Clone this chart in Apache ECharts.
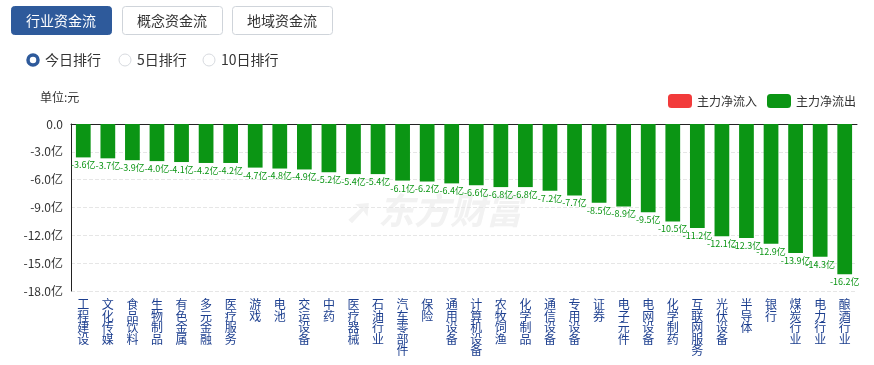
<!DOCTYPE html>
<html><head><meta charset="utf-8">
<script src="https://cdn.jsdelivr.net/npm/echarts@6/dist/echarts.min.js"></script>
<style>html,body{margin:0;padding:0;background:#fff}#c{width:874px;height:365px}</style>
</head><body><div id="c"></div>
<script>
const categories = ['工程建设','文化传媒','食品饮料','生物制品','有色金属','多元金融','医疗服务','游戏','电池','交运设备','中药','医疗器械','石油行业','汽车零部件','保险','通用设备','计算机设备','农牧饲渔','化学制品','通信设备','专用设备','证券','电子元件','电网设备','化学制药','互联网服务','光伏设备','半导体','银行','煤炭行业','电力行业','酿酒行业'];
const outflow = [-3.6,-3.7,-3.9,-4.0,-4.1,-4.2,-4.2,-4.7,-4.8,-4.9,-5.2,-5.4,-5.4,-6.1,-6.2,-6.4,-6.6,-6.8,-6.8,-7.2,-7.7,-8.5,-8.9,-9.5,-10.5,-11.2,-12.1,-12.3,-12.9,-13.9,-14.3,-16.2];
const inflow = categories.map(() => '-');
const tabs = ['行业资金流','概念资金流','地域资金流'];
const radios = ['今日排行','5日排行','10日排行'];

const FONT = '"Noto Sans CJK SC", "Microsoft YaHei", sans-serif';
const GREEN = '#0b9514';
const RED = '#f23b3b';
const chart = echarts.init(document.getElementById('c'), null, {renderer:'canvas'});

const tabX = [11, 122, 232];
const graphics = [];
tabs.forEach((t, i) => {
  const sel = i === 0;
  graphics.push({type:'rect', shape:{x: tabX[i] + 0.5, y: 6.5, width:100, height:28, r:3},
    style:{fill: sel ? '#2e5a9b' : '#fff', stroke: sel ? '#2e5a9b' : '#cfd4da', lineWidth:1}});
  graphics.push({type:'text', style:{x: tabX[i] + 50, y: 20.5, text:t, fill: sel ? '#fff' : '#333',
    font: '14px ' + FONT, align:'center', verticalAlign:'middle'}});
});
const radioX = [33, 125, 209];
radios.forEach((t, i) => {
  const sel = i === 0;
  graphics.push({type:'circle', shape:{cx: radioX[i], cy: 60, r: sel ? 5 : 6},
    style:{fill:'#fff', stroke: sel ? '#2e5a9b' : '#d6d9de', lineWidth: sel ? 3.5 : 1}});
  graphics.push({type:'text', style:{x: radioX[i] + 12, y: 60, text:t, fill:'#333',
    font: '14px ' + FONT, align:'left', verticalAlign:'middle'}});
});
graphics.push({type:'text', style:{x: 40, y: 97, text:'单位:元', fill:'#333', font:'12px ' + FONT, verticalAlign:'middle'}});
graphics.push({type:'text', z: -1, style:{x: 378, y: 210, text:'东方财富', fill:'#f2f2f2', font:'bold italic 36px ' + FONT, verticalAlign:'middle'}});
graphics.push({type:'text', z: -1, style:{x: 345, y: 210, text:'➚', fill:'#f2f2f2', font:'bold 34px ' + FONT, verticalAlign:'middle'}});

chart.setOption({
  animation:false,
  textStyle:{fontFamily: FONT},
  graphic: graphics,
  legend:{right: 13, top: 89, itemWidth: 24, itemHeight: 14, itemGap: 10, icon:'roundRect',
    textStyle:{color:'#333', fontSize:12, fontFamily: FONT},
    data:['主力净流入','主力净流出']},
  grid:{left: 71, right: 17, top: 124, bottom: 74},
  xAxis:[{type:'category', data: categories, position:'bottom',
    axisLine:{show:false}, axisTick:{show:false},
    axisLabel:{interval:0, margin: 8, color:'#1d3f8f', fontSize:12, lineHeight:11.5, fontFamily: FONT,
      formatter: v => v.split('').join('\n'), verticalAlign:'top'}},
    {type:'category', data: categories, position:'top', axisLine:{show:true, lineStyle:{color:'#222'}},
     axisTick:{show:false}, axisLabel:{show:false}}],
  yAxis:{type:'value', min:-18, max:0, interval:3,
    axisLine:{show:true, lineStyle:{color:'#222'}}, axisTick:{show:false},
    splitLine:{show:true, lineStyle:{color:'#e6e6e6', type:'dashed'}},
    axisLabel:{color:'#333', fontSize:12, margin:8, fontFamily: FONT,
      formatter: v => v === 0 ? '0.0' : v.toFixed(1) + '亿'}},
  series:[
    {name:'主力净流入', type:'bar', stack:'s', data: inflow, itemStyle:{color: RED}, barWidth:'60%'},
    {name:'主力净流出', type:'bar', stack:'s', data: outflow, itemStyle:{color: GREEN}, barWidth:'60%',
      label:{show:true, position:'bottom', distance:3, color: GREEN, fontSize:9, fontFamily: FONT,
        formatter: p => p.value.toFixed(1) + '亿'}}
  ]
});
</script></body></html>
